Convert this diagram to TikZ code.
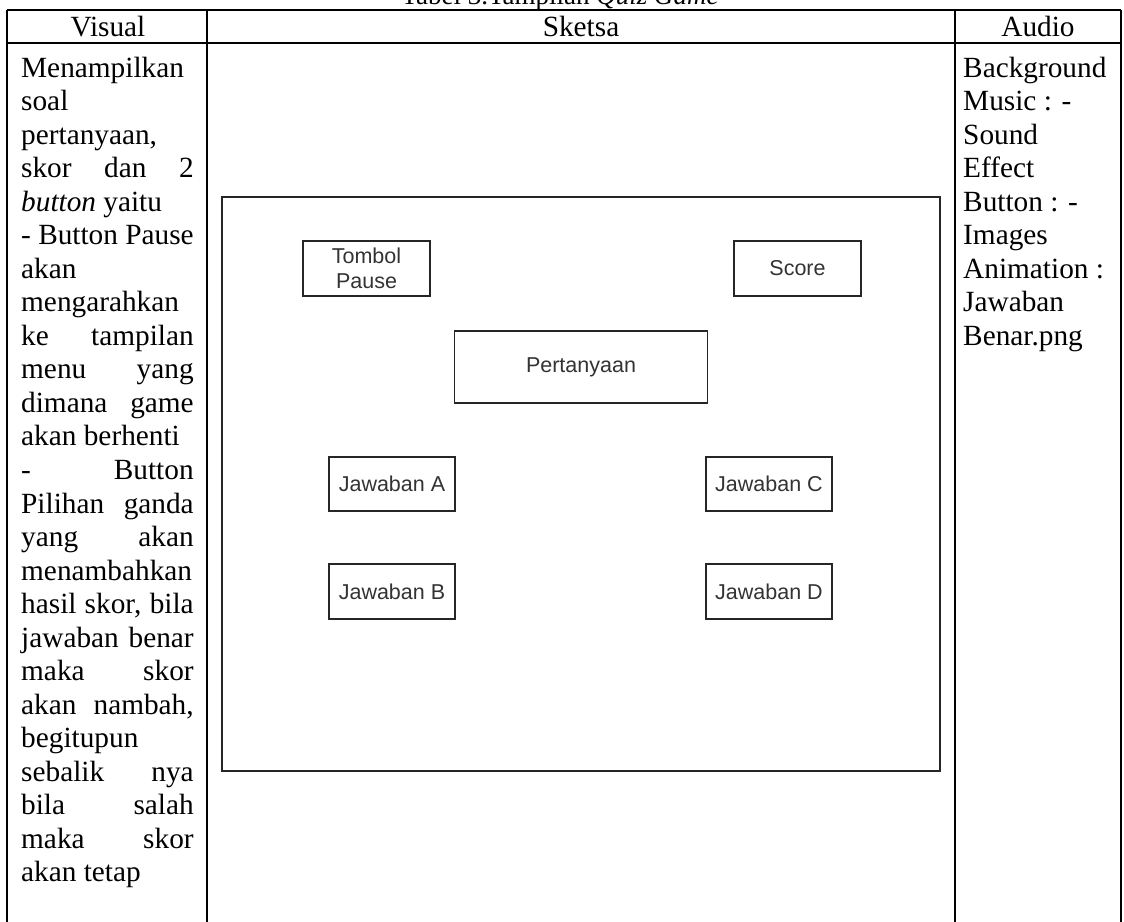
\documentclass[tikz,border=0pt]{standalone}
\usepackage{fontspec}
\setmainfont{Liberation Serif}
\newfontfamily\arialf{Liberation Sans}
\newcommand{\J}[1]{\makebox[172.5pt][s]{#1}}
\begin{document}
\begin{tikzpicture}[x=1pt,y=-1pt,
  grid/.style={line width=2.4pt,black},
  body/.style={anchor=base west,inner sep=0pt,font=\fontsize{29.3}{33.5}\selectfont},
  head/.style={anchor=base,inner sep=0pt,font=\fontsize{29.3}{33.5}\selectfont},
  frame/.style={draw=black!85,line width=1.8pt,inner sep=0pt},
  sbox/.style={draw=black!85,line width=1.8pt,inner sep=0pt,align=center,
    text=black!80,font=\arialf\fontsize{21.5}{25}\selectfont}]
\useasboundingbox (0,0) rectangle (1124,921);
\clip (0,0) rectangle (1124,921);
\fill[white] (0,0) rectangle (1124,921);
% caption (cut off at top)
\node[head,font=\fontsize{27}{30}\selectfont] (cap) at (560,4) {Tabel 3.Tampilan \textit{Quiz Game}};
% table grid
\draw[grid] (7,10) -- (1121,10);
\draw[grid] (7,43) -- (1121,43);
\draw[grid] (7,10) -- (7,930);
\draw[grid] (207,10) -- (207,930);
\draw[grid] (955,10) -- (955,930);
\draw[grid] (1121,10) -- (1121,930);
% headers
\node[head] (hv) at (108,36) {Visual};
\node[head] (hs) at (581,36) {Sketsa};
\node[head] (ha) at (1038,36) {Audio};
% visual column
\foreach \t [count=\i] in {{Menampilkan},{soal},{pertanyaan,},{\J{skor dan 2}},{\textit{button} yaitu},{\J{- Button Pause}},{akan},{mengarahkan},{\J{ke tampilan}},{\J{menu yang}},{\J{dimana game}},{akan berhenti},{\J{- Button}},{\J{Pilihan ganda}},{\J{yang akan}},{menambahkan},{\J{hasil skor, bila}},{\J{jawaban benar}},{\J{maka skor}},{\J{akan nambah,}},{begitupun},{\J{sebalik nya}},{\J{bila salah}},{\J{maka skor}},{akan tetap}}
  \node[body] (v\i) at (21,{77+(\i-1)*33.54}) {\t};
% audio column
\foreach \t [count=\i] in {{Background},{Music : -},{Sound},{Effect},{Button : -},{Images},{Animation :},{Jawaban},{Benar.png}}
  \node[body] (a\i) at (963,{77+(\i-1)*33.54}) {\t};
% sketch
\node[frame,minimum width=718pt,minimum height=574pt] (screen) at (581,484) {};
\node[sbox,minimum width=127pt,minimum height=55pt] (pause) at (366.5,268.5) {Tombol\\Pause};
\node[sbox,minimum width=127pt,minimum height=55pt] (score) at (797.5,268.5) {Score};
\node[sbox,minimum width=253pt,minimum height=72pt] (quest) at (581,367) {Pertanyaan};
\node[sbox,minimum width=126pt,minimum height=54pt] (ja) at (392,484) {Jawaban A};
\node[sbox,minimum width=126pt,minimum height=54pt] (jc) at (769,484) {Jawaban C};
\node[sbox,minimum width=126pt,minimum height=55pt] (jb) at (392,591.5) {Jawaban B};
\node[sbox,minimum width=126pt,minimum height=55pt] (jd) at (769,591.5) {Jawaban D};
\end{tikzpicture}
\end{document}
